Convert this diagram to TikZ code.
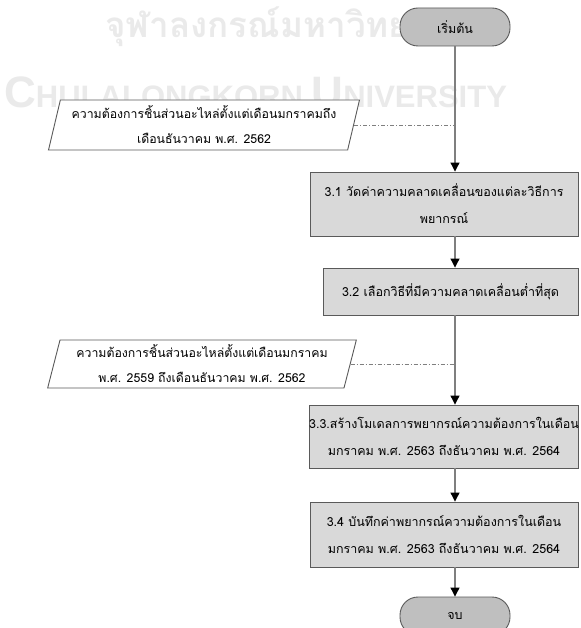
\documentclass[tikz,border=0pt]{standalone}
\usepackage{fontspec}
\usetikzlibrary{shapes.geometric,arrows.meta}
\newfontfamily\thai[Script=Thai]{Loma}
\newfontfamily\wmlatin{Liberation Sans}
\definecolor{boxfill}{HTML}{D9D9D9}
\definecolor{termfill}{HTML}{BFBFBF}
\definecolor{edge}{HTML}{5A5A5A}
\definecolor{wire}{HTML}{7F7F7F}
\definecolor{wm}{HTML}{EAEAEA}
\tikzset{
  txt/.style={font=\thai\fontsize{12.5}{27}\selectfont, align=center, text=black},
  term/.style={txt, draw=edge, fill=termfill, line width=0.9pt, rounded corners=18pt,
    minimum width=110pt, minimum height=38pt, inner sep=0pt},
  procbox/.style={txt, draw=edge, fill=boxfill, line width=0.9pt, inner sep=0pt},
  databox/.style={txt, font=\thai\fontsize{12.3}{25}\selectfont, draw=edge, fill=white, line width=0.9pt, trapezium,
    trapezium left angle=74, trapezium right angle=106, trapezium stretches=true, inner sep=0pt},
  flow/.style={draw=wire, line width=1.1pt, -{Triangle[length=9pt,width=9pt,black]}},
  feed/.style={draw=wire, line width=0.8pt, dash pattern=on 4pt off 2pt on 1pt off 2pt},
}
\begin{document}
\begin{tikzpicture}[x=1pt,y=-1pt]
\useasboundingbox (0,0) rectangle (580,628);
\clip (0,0) rectangle (580,628);
\fill[white] (0,0) rectangle (580,628);

% university watermark
\node[text=wm, font=\thai\bfseries\fontsize{35}{40}\selectfont, inner sep=0pt] (wmth) at (288,27) {จุฬาลงกรณ์มหาวิทยาลัย};
\node[text=wm, font=\wmlatin\bfseries, inner sep=0pt, anchor=base west] (wmen) at (4,108)
  {{\fontsize{44}{44}\selectfont C}{\fontsize{31}{31}\selectfont HULALONGKORN }{\fontsize{44}{44}\selectfont U}{\fontsize{31}{31}\selectfont NIVERSITY}};

% flowchart nodes
\node[term] (start) at (455,27) {เริ่มต้น};
\node[databox, minimum width=312pt, minimum height=50pt] (in1) at (204,125)
  {ความต้องการชิ้นส่วนอะไหล่ตั้งแต่เดือนมกราคมถึง\\เดือนธันวาคม พ.ศ. 2562};
\node[procbox, minimum width=268pt, minimum height=64pt] (s31) at (444,204)
  {3.1 วัดค่าความคลาดเคลื่อนของแต่ละวิธีการ\\พยากรณ์};
\node[procbox, minimum width=255pt, minimum height=47pt] (s32) at (450.5,291.5)
  {3.2 เลือกวิธีที่มีความคลาดเคลื่อนต่ำที่สุด};
\node[databox, minimum width=310pt, minimum height=48pt] (in2) at (202,364)
  {ความต้องการชิ้นส่วนอะไหล่ตั้งแต่เดือนมกราคม\\พ.ศ. 2559 ถึงเดือนธันวาคม พ.ศ. 2562};
\node[procbox, minimum width=268pt, minimum height=63pt] (s33) at (444,436.5)
  {3.3.สร้างโมเดลการพยากรณ์ความต้องการในเดือน\\มกราคม พ.ศ. 2563 ถึงธันวาคม พ.ศ. 2564};
\node[procbox, minimum width=268pt, minimum height=65pt] (s34) at (444,534.5)
  {3.4 บันทึกค่าพยากรณ์ความต้องการในเดือน\\มกราคม พ.ศ. 2563 ถึงธันวาคม พ.ศ. 2564};
\node[term] (stop) at (455,616) {จบ};

% main flow
\draw[flow] (start.south) -- (start.south |- s31.north);
\draw[flow] (start.south |- s31.south) -- (start.south |- s32.north);
\draw[flow] (start.south |- s32.south) -- (start.south |- s33.north);
\draw[flow] (start.south |- s33.south) -- (start.south |- s34.north);
\draw[flow] (start.south |- s34.south) -- (stop.north);

% data inputs joining the main flow
\coordinate (j1) at (start.south |- in1.east);
\coordinate (j2) at (start.south |- in2.east);
\draw[feed] (in1.east) -- (j1);
\draw[feed] (in2.east) -- (j2);
\end{tikzpicture}
\end{document}
